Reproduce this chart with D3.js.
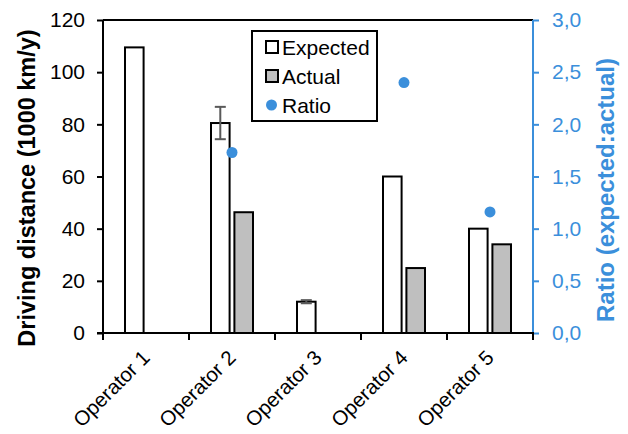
<!DOCTYPE html>
<html>
<head>
<meta charset="utf-8">
<script src="https://cdn.jsdelivr.net/npm/d3@7"></script>
<style>
  body { margin: 0; background: #fff; }
  text { font-family: "Liberation Sans", Arial, sans-serif; }
</style>
</head>
<body>
<div id="chart"></div>
<script>
const operators = ["Operator 1", "Operator 2", "Operator 3", "Operator 4", "Operator 5"];
const expected = [109.5, 80.5, 12.0, 60.0, 40.0];
const expectedErr = [null, 6.2, 0.6, null, null];
const actual = [null, 46.3, null, 24.9, 34.0];
const ratio = [null, 1.73, null, 2.40, 1.16];
const leftTicks = [0, 20, 40, 60, 80, 100, 120];
const rightTicks = [0, 0.5, 1, 1.5, 2, 2.5, 3];

const width = 628;
const height = 434;
const margin = { top: 20, right: 95, bottom: 101, left: 103 };
const blue = "#3b8fdb";

const svg = d3.select("#chart")
  .append("svg")
  .attr("width", width)
  .attr("height", height);

const x = d3.scaleBand()
  .domain(operators)
  .range([margin.left, width - margin.right])
  .padding(0);

const sub = d3.scaleBand()
  .domain(["Expected", "Actual"])
  .range([-22, 22])
  .paddingInner(0.12);

const y = d3.scaleLinear()
  .domain([0, 120])
  .range([height - margin.bottom, margin.top]);

const y2 = d3.scaleLinear()
  .domain([0, 3])
  .range([height - margin.bottom, margin.top]);

const center = d => x(d) + x.bandwidth() / 2;

// top frame line
svg.append("line")
  .attr("x1", margin.left).attr("x2", width - margin.right)
  .attr("y1", margin.top).attr("y2", margin.top)
  .attr("stroke", "#000").attr("stroke-width", 2);

// bars
const rows = operators.map((op, i) => ({ op, exp: expected[i], err: expectedErr[i], act: actual[i], ratio: ratio[i] }));

svg.selectAll(".exp")
  .data(rows)
  .enter()
  .append("rect")
  .attr("x", d => center(d.op) + sub("Expected") + 1)
  .attr("width", sub.bandwidth() - 2)
  .attr("y", d => y(d.exp))
  .attr("height", d => y(0) - y(d.exp))
  .attr("fill", "#fff")
  .attr("stroke", "#000")
  .attr("stroke-width", 2);

svg.selectAll(".act")
  .data(rows.filter(d => d.act != null))
  .enter()
  .append("rect")
  .attr("x", d => center(d.op) + sub("Actual") + 1)
  .attr("width", sub.bandwidth() - 2)
  .attr("y", d => y(d.act))
  .attr("height", d => y(0) - y(d.act))
  .attr("fill", "#bfbfbf")
  .attr("stroke", "#000")
  .attr("stroke-width", 2);

// error bars
const errRows = rows.filter(d => d.err != null);
const errG = svg.selectAll(".err")
  .data(errRows)
  .enter()
  .append("g")
  .attr("stroke", "#595959")
  .attr("stroke-width", 2);

errG.append("line")
  .attr("x1", d => center(d.op) + sub("Expected") + sub.bandwidth() / 2)
  .attr("x2", d => center(d.op) + sub("Expected") + sub.bandwidth() / 2)
  .attr("y1", d => y(d.exp + d.err))
  .attr("y2", d => y(d.exp - d.err));
[1, -1].forEach(s => {
  errG.append("line")
    .attr("x1", d => center(d.op) + sub("Expected") + sub.bandwidth() / 2 - 5.5)
    .attr("x2", d => center(d.op) + sub("Expected") + sub.bandwidth() / 2 + 5.5)
    .attr("y1", d => y(d.exp + s * d.err))
    .attr("y2", d => y(d.exp + s * d.err));
});

// ratio points
svg.selectAll(".ratio")
  .data(rows.filter(d => d.ratio != null))
  .enter()
  .append("circle")
  .attr("cx", d => center(d.op))
  .attr("cy", d => y2(d.ratio))
  .attr("r", 5.5)
  .attr("fill", blue);

// axes
const yAxis = svg.append("g")
  .attr("transform", `translate(${margin.left},0)`)
  .call(d3.axisLeft(y).tickValues(leftTicks).tickSize(6).tickPadding(12));
yAxis.select(".domain").attr("stroke-width", 2).attr("d", `M0,${y(120)}V${y(0)}`);
yAxis.selectAll(".tick line").attr("stroke-width", 2);
yAxis.selectAll("text").attr("font-size", 21).attr("fill", "#000").attr("font-family", "Liberation Sans, Arial, sans-serif");

const y2Axis = svg.append("g")
  .attr("transform", `translate(${width - margin.right},0)`)
  .call(d3.axisRight(y2).tickValues(rightTicks).tickSize(6).tickPadding(13)
    .tickFormat(d => d.toFixed(1).replace(".", ",")));
y2Axis.select(".domain").attr("stroke", blue).attr("stroke-width", 2).attr("d", `M0,${y2(3)}V${y2(0)}`);
y2Axis.selectAll(".tick line").attr("stroke", blue).attr("stroke-width", 2);
y2Axis.selectAll("text").attr("font-size", 21).attr("fill", blue).attr("font-family", "Liberation Sans, Arial, sans-serif");

const xAxis = svg.append("g")
  .attr("transform", `translate(0,${y(0)})`)
  .call(d3.axisBottom(x).tickSize(0).tickFormat(""));
xAxis.select(".domain").attr("stroke-width", 2).attr("d", `M${margin.left - 6},0H${width - margin.right + 1}`);

// category boundary ticks
const bounds = operators.map(d => x(d)).concat([x.range()[1]]);
svg.selectAll(".bt")
  .data(bounds)
  .enter()
  .append("line")
  .attr("x1", d => d).attr("x2", d => d)
  .attr("y1", y(0)).attr("y2", y(0) + 7)
  .attr("stroke", "#000").attr("stroke-width", 2);

// category labels
svg.selectAll(".xl")
  .data(operators)
  .enter()
  .append("text")
  .attr("transform", d => `translate(${center(d) + 5},${y(0) + 26}) rotate(-45)`)
  .attr("text-anchor", "end")
  .attr("font-size", 20.5)
  .attr("fill", "#000")
  .text(d => d);

// axis titles
svg.append("text")
  .attr("transform", "translate(35,188) rotate(-90)")
  .attr("text-anchor", "middle")
  .attr("font-size", 23.5)
  .attr("font-weight", "bold")
  .attr("fill", "#000")
  .text("Driving distance (1000 km/y)");

svg.append("text")
  .attr("transform", "translate(614,190) rotate(-90)")
  .attr("text-anchor", "middle")
  .attr("font-size", 24)
  .attr("font-weight", "bold")
  .attr("fill", blue)
  .text("Ratio (expected:actual)");

// legend
const legend = svg.append("g");
legend.append("rect")
  .attr("x", 252).attr("y", 31)
  .attr("width", 125).attr("height", 90)
  .attr("fill", "#fff").attr("stroke", "#000").attr("stroke-width", 2);

const legendItems = [
  { name: "Expected", type: "rect", fill: "#fff" },
  { name: "Actual", type: "rect", fill: "#bfbfbf" },
  { name: "Ratio", type: "dot", fill: blue }
];

legendItems.forEach((item, i) => {
  const cy = 47 + i * 29;
  if (item.type === "rect") {
    legend.append("rect")
      .attr("x", 266).attr("y", cy - 6)
      .attr("width", 12).attr("height", 12)
      .attr("fill", item.fill).attr("stroke", "#000").attr("stroke-width", 2);
  } else {
    legend.append("circle")
      .attr("cx", 271.5).attr("cy", cy)
      .attr("r", 5.5).attr("fill", item.fill);
  }
  legend.append("text")
    .attr("x", 282).attr("y", cy + 7.5)
    .attr("font-size", 21)
    .attr("fill", "#000")
    .text(item.name);
});
</script>
</body>
</html>
